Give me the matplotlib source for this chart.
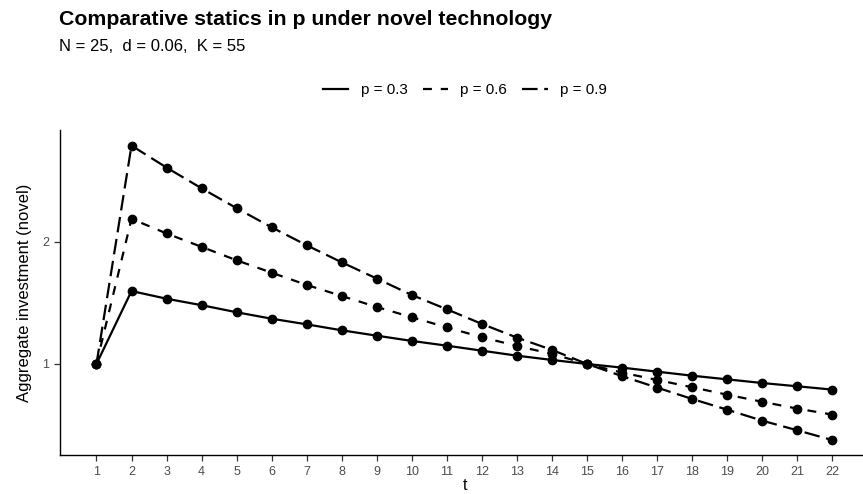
import numpy as np
import matplotlib
matplotlib.use("Agg")
import matplotlib.pyplot as plt
from matplotlib.lines import Line2D

plt.rcParams['font.family'] = ['Liberation Sans', 'DejaVu Sans']

t = list(range(1, 23))
p03 = [1.00, 1.598, 1.535, 1.482, 1.424, 1.371, 1.325, 1.276, 1.232, 1.189, 1.150,
       1.109, 1.068, 1.033, 1.000, 0.970, 0.937, 0.904, 0.874, 0.844, 0.817, 0.790]
p06 = [1.00, 2.19, 2.07, 1.96, 1.85, 1.748, 1.648, 1.557, 1.467, 1.383, 1.300,
       1.219, 1.148, 1.082, 1.000, 0.929, 0.869, 0.809, 0.748, 0.690, 0.634, 0.585]
p09 = [1.00, 2.79, 2.61, 2.44, 2.277, 2.12, 1.973, 1.833, 1.700, 1.565, 1.448,
       1.328, 1.216, 1.115, 1.000, 0.900, 0.806, 0.713, 0.625, 0.535, 0.456, 0.376]
labels = ['p = 0.3', 'p = 0.6', 'p = 0.9']
styles = ['-', (0, (4, 4)), (0, (7, 3))]

W, H = 863, 494
fig = plt.figure(figsize=(W / 100, H / 100), dpi=100)
ax = fig.add_axes([60 / W, 1 - 455 / H, 810 / W, 325 / H])

handles = []
for y, lab, ls in zip([p03, p06, p09], labels, styles):
    ax.plot(t, y, color='black', lw=1.6, linestyle=ls)
    ax.plot(t, y, 'o', color='black', ms=6)
    handles.append(Line2D([], [], color='black', lw=1.6, linestyle=ls))

ax.set_xlim(-0.04, 23.07)
ax.set_ylim(0.254, 2.918)
ax.set_xticks(t)
ax.set_yticks([1, 2])
ax.spines['top'].set_visible(False)
ax.spines['right'].set_visible(False)
for s in ['left', 'bottom']:
    ax.spines[s].set_linewidth(1.0)
ax.tick_params(axis='both', length=4, width=0.9, color='#333333',
               labelsize=9, labelcolor='#4D4D4D', pad=4)

ax.set_xlabel('t', fontsize=11.5, labelpad=0)
ax.set_ylabel('Aggregate investment (novel)', fontsize=12, labelpad=7)

fig.text(59 / W, 1 - 25 / H, 'Comparative statics in p under novel technology',
         fontsize=15.3, fontweight='bold', va='baseline', ha='left')
fig.text(59 / W, 1 - 51 / H, 'N = 25,  d = 0.06,  K = 55',
         fontsize=12, va='baseline', ha='left')

fig.legend(handles, labels, loc='center', bbox_to_anchor=(465 / W, 1 - 90 / H),
           ncol=3, frameon=False, fontsize=11, handlelength=1.65,
           handletextpad=0.8, columnspacing=1.0)

fig.savefig('out.png', dpi=100)
